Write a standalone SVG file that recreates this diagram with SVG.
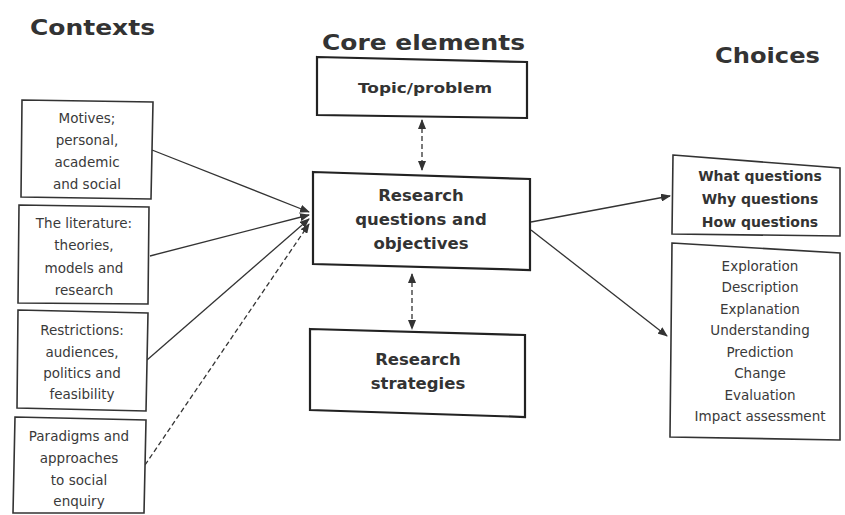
<svg xmlns="http://www.w3.org/2000/svg" width="845" height="515" viewBox="0 0 845 515">
<style>
.bg{fill:#fff}
.box{fill:#fff;stroke:#333;stroke-width:1.6}
.core{fill:#fff;stroke:#222;stroke-width:2.2}
.title{font-family:"DejaVu Sans",sans-serif;font-weight:bold;font-size:22px;fill:#333}
.t{font-family:"DejaVu Sans",sans-serif;font-size:13.5px;fill:#3a3a3a;text-anchor:middle}
.tr{font-family:"DejaVu Sans",sans-serif;font-size:13.5px;fill:#3a3a3a;text-anchor:middle}
.tb{font-family:"DejaVu Sans",sans-serif;font-weight:bold;font-size:16.5px;fill:#333;text-anchor:middle}
.tc{font-family:"DejaVu Sans",sans-serif;font-weight:bold;font-size:14px;fill:#333;text-anchor:middle}
.c{stroke:#333;stroke-width:1.3;fill:none}
.d{stroke-dasharray:5 3}
</style>
<defs>
<marker id="ah" markerWidth="10" markerHeight="8" refX="9" refY="4" orient="auto" markerUnits="userSpaceOnUse">
<path d="M0,0 L10,4 L0,8 z" fill="#333"/>
</marker>
<marker id="ahs" markerWidth="10" markerHeight="8" refX="1" refY="4" orient="auto" markerUnits="userSpaceOnUse">
<path d="M10,0 L0,4 L10,8 z" fill="#333"/>
</marker>
</defs>
<rect class="bg" width="845" height="515"/>
<text class="title" x="30" y="35" textLength="125" lengthAdjust="spacingAndGlyphs">Contexts</text>
<text class="title" x="322" y="50" textLength="203" lengthAdjust="spacingAndGlyphs">Core elements</text>
<text class="title" x="715" y="63" textLength="105" lengthAdjust="spacingAndGlyphs">Choices</text>

<g id="connectors">
<line class="c" x1="152" y1="150" x2="309" y2="212" marker-end="url(#ah)"/>
<line class="c" x1="150" y1="256" x2="309" y2="215" marker-end="url(#ah)"/>
<line class="c" x1="147" y1="360" x2="309" y2="219" marker-end="url(#ah)"/>
<line class="c d" x1="145" y1="465" x2="309" y2="224" marker-end="url(#ah)"/>
<line class="c d" x1="422" y1="120" x2="422" y2="170" marker-start="url(#ahs)" marker-end="url(#ah)"/>
<line class="c d" x1="412" y1="274" x2="412" y2="329" marker-start="url(#ahs)" marker-end="url(#ah)"/>
<line class="c" x1="531" y1="222" x2="670" y2="196" marker-end="url(#ah)"/>
<line class="c" x1="531" y1="230" x2="667" y2="336" marker-end="url(#ah)"/>
</g>

<g id="topic">
<polygon class="core" points="317,57 527,62 527,118 317,115"/>
<text class="tc" x="425" y="93" textLength="134" lengthAdjust="spacingAndGlyphs">Topic/problem</text>
</g>
<g id="rq">
<polygon class="core" points="313,172 530,179 530,270 313,264"/>
<text class="tb" x="421" y="201">Research</text>
<text class="tb" x="421" y="225">questions and</text>
<text class="tb" x="421" y="249">objectives</text>
</g>
<g id="strategies">
<polygon class="core" points="310,329 525,335 525,417 310,410"/>
<text class="tb" x="418" y="365">Research</text>
<text class="tb" x="418" y="389">strategies</text>
</g>

<g id="motives">
<polygon class="box" points="22,100 153,102 151,199 21,197"/>
<text class="t" x="87" y="123">Motives;</text>
<text class="t" x="87" y="145">personal,</text>
<text class="t" x="87" y="167">academic</text>
<text class="t" x="87" y="189">and social</text>
</g>
<g id="literature">
<polygon class="box" points="19,205 149,207 148,304 18,303"/>
<text class="t" x="84" y="228">The literature:</text>
<text class="t" x="84" y="250">theories,</text>
<text class="t" x="84" y="273">models and</text>
<text class="t" x="84" y="295">research</text>
</g>
<g id="restrictions">
<polygon class="box" points="18,310 148,313 146,411 17,408"/>
<text class="t" x="82" y="335">Restrictions:</text>
<text class="t" x="82" y="357">audiences,</text>
<text class="t" x="82" y="378">politics and</text>
<text class="t" x="82" y="399">feasibility</text>
</g>
<g id="paradigms">
<polygon class="box" points="15,417 146,420 144,513 13,513"/>
<text class="t" x="79" y="441">Paradigms and</text>
<text class="t" x="79" y="463">approaches</text>
<text class="t" x="79" y="485">to social</text>
<text class="t" x="79" y="506">enquiry</text>
</g>

<g id="questions">
<polygon class="box" points="673,155 840,168 840,236 672,234"/>
<text class="tc" x="760" y="181">What questions</text>
<text class="tc" x="760" y="204">Why questions</text>
<text class="tc" x="760" y="227">How questions</text>
</g>
<g id="purposes">
<polygon class="box" points="672,243 840,253 840,440 670,437"/>
<text class="tr" x="760" y="271">Exploration</text>
<text class="tr" x="760" y="292">Description</text>
<text class="tr" x="760" y="314">Explanation</text>
<text class="tr" x="760" y="335">Understanding</text>
<text class="tr" x="760" y="357">Prediction</text>
<text class="tr" x="760" y="378">Change</text>
<text class="tr" x="760" y="400">Evaluation</text>
<text class="tr" x="760" y="421">Impact assessment</text>
</g>
</svg>
